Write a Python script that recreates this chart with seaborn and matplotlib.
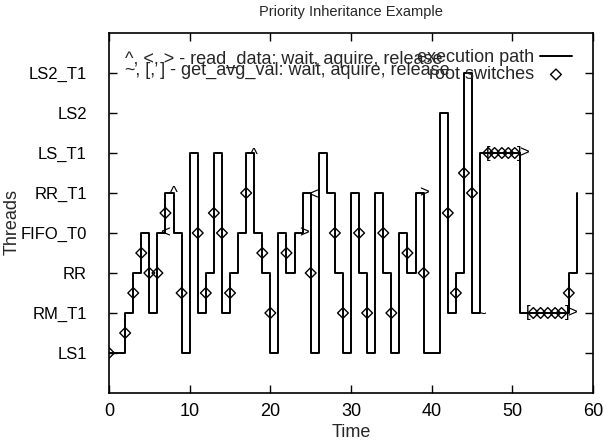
import matplotlib
matplotlib.use("Agg")
import matplotlib.pyplot as plt
import seaborn as sns
import pandas as pd

threads = ['LS1', 'RM_T1', 'RR', 'FIFO_T0', 'RR_T1', 'LS_T1', 'LS2', 'LS2_T1']

# execution path: time of each switch and thread index it switches to
path_t = [0, 2, 3, 4, 5, 6, 7, 8, 9, 10, 11, 12, 13, 14, 15, 16, 17, 18, 19, 20,
          21, 22, 23, 24, 25, 26, 27, 28, 29, 30, 31, 32, 33, 34, 35, 36, 37, 38, 39,
          41, 42, 43, 44, 45, 46, 51, 57, 58]
path_y = [0, 1, 2, 3, 1, 3, 4, 3, 0, 5, 1, 2, 5, 1, 2, 3, 5, 3, 2, 0,
          3, 2, 3, 4, 0, 5, 4, 2, 0, 4, 2, 0, 4, 2, 0, 3, 2, 4, 0,
          6, 1, 2, 7, 1, 5, 1, 2, 4]

# root switches
sw_t = [0, 2, 3, 4, 5, 6, 7, 9, 11, 12, 13, 14, 15, 17, 19, 20, 22, 25, 28, 29,
        31, 32, 34, 35, 37, 39, 42, 43, 44, 45,
        47.0, 47.8, 48.7, 49.5, 50.3, 52.6, 53.5, 54.4, 55.3, 56.1, 57]
sw_y = [0, 0.5, 1.5, 2.5, 2, 2, 3.5, 1.5, 3, 1.5, 3.5, 3, 1.5, 4, 2.5, 1, 2.5, 2, 3, 1,
        3, 1, 3, 1, 2.5, 2, 3.5, 1.5, 4.5, 4,
        5, 5, 5, 5, 5, 1, 1, 1, 1, 1, 1.5]

# lock event symbols
mark_sym = ['<', '^', '^', '>', '<', '>', '~', '[', ']', '>', '[', ']', '>']
mark_t = [7, 8, 17.9, 24.2, 25.3, 39, 46.1, 47, 50.9, 51.5, 51.9, 56.8, 57.4]
mark_y = [3.0, 3.98, 4.93, 3.0, 3.95, 4.0, 0.95, 5.0, 5.0, 5.0, 1.0, 1.0, 1.0]

df_path = pd.DataFrame({'Time': path_t, 'Thread': path_y})
df_sw = pd.DataFrame({'Time': sw_t, 'Thread': sw_y})

sns.set_theme(style="ticks")
plt.rcParams['font.family'] = ['Liberation Sans', 'DejaVu Sans']

fig = plt.figure(figsize=(6.04, 4.45), dpi=100)
ax = fig.add_axes([0.1805, 0.1169, 0.8013, 0.8089])

sns.lineplot(ax=ax, data=df_path, x='Time', y='Thread', estimator=None, sort=False,
             drawstyle='steps-post', color='black', linewidth=1.4, label='execution path')
sns.scatterplot(ax=ax, data=df_sw, x='Time', y='Thread', marker='D', s=30,
                facecolor='none', edgecolor='black', linewidth=1.0, label='root switches', zorder=3)

for s, t, y in zip(mark_sym, mark_t, mark_y):
    ax.text(t, y, s, ha='center', va='center', fontsize=12, color='black', zorder=4)

ax.set_xlim(0, 60)
ax.set_ylim(-1, 8)
ax.set_xticks(range(0, 61, 10))
ax.set_yticks(range(len(threads)))
ax.set_yticklabels(threads)
ax.tick_params(direction='in', top=True, right=True, length=6, width=1,
               colors='black')
ax.tick_params(axis='y', labelsize=12, pad=16)
ax.tick_params(axis='x', labelsize=13, pad=7)
for sp in ax.spines.values():
    sp.set_visible(True)
    sp.set_color('black')
    sp.set_linewidth(1.2)

ax.set_xlabel('Time', fontsize=13, labelpad=3)
ax.set_ylabel('Threads', fontsize=13)
ax.yaxis.set_label_coords(-0.183, 0.475)
ax.set_title('Priority Inheritance Example', fontsize=10.5, pad=12)

ax.text(0.033, 0.928, '^, <, > - read_data: wait, aquire, release', transform=ax.transAxes,
        fontsize=13, va='center', ha='left')
ax.text(0.033, 0.895, '~, [, ] - get_avg_val: wait, aquire, release', transform=ax.transAxes,
        fontsize=13, va='center', ha='left')

ax.legend(loc='upper right', bbox_to_anchor=(0.957, 0.955), frameon=False, markerfirst=False,
          fontsize=13, handlelength=1.8, handletextpad=0.3, labelspacing=0.0,
          borderaxespad=0.0, borderpad=0.0)

fig.savefig('out.png', dpi=100)
